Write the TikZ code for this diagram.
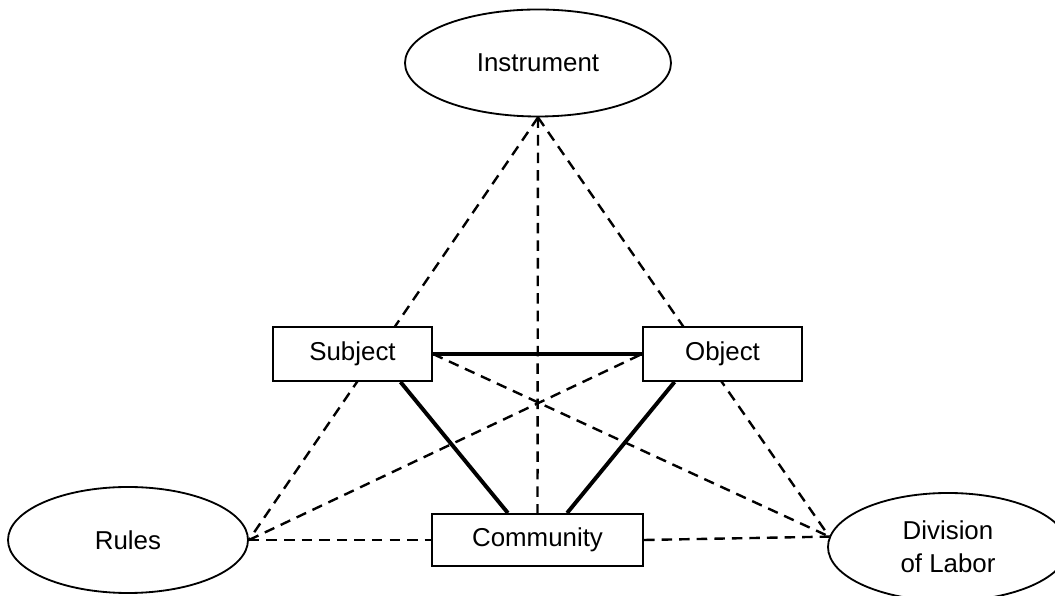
\documentclass[tikz,border=0pt]{standalone}
\usepackage{fontspec}
\setmainfont{Liberation Sans}
\usetikzlibrary{shapes,positioning,calc,backgrounds}

\begin{document}
\begin{tikzpicture}[
    oval/.style={draw, line width=1.3pt, ellipse, fill=white, inner sep=0pt,
        font=\fontsize{18.4}{23.5}\selectfont, align=center},
    box/.style={draw, line width=1.4pt, rectangle, fill=white, inner sep=0pt,
        minimum height=1.35cm, font=\fontsize{18.4}{23.5}\selectfont},
    link/.style={line width=1.7pt, dash pattern=on 7.5pt off 5pt},
    tie/.style={line width=2.8pt}
]
    \useasboundingbox (0,0) rectangle (26.375,14.9);

    % The outer ovals
    \node[oval, minimum width=6.65cm, minimum height=2.675cm] (instrument) at (13.45,13.325) {Instrument};
    \node[oval, minimum width=6cm, minimum height=2.65cm] (rules) at (3.2,1.4) {Rules};
    \node[oval, minimum width=6cm, minimum height=2.7cm] (division) at (23.7,1.225) {Division\\of Labor};

    % The inner boxes
    \node[box, minimum width=3.975cm] (subject) at (8.8125,6.05) {Subject};
    \node[box, minimum width=3.975cm] (object) at (18.0625,6.05) {Object};
    \node[box, minimum width=5.275cm, minimum height=1.3cm] (community) at (13.4375,1.4) {Community};

    \begin{scope}[on background layer]
        % Dashed ties from the instrument
        \draw[link] (instrument.south) -- (rules.east);
        \draw[link] (instrument.south) -- (community.north);
        \draw[link] (instrument.south) -- (division.175);

        % Dashed cross ties
        \draw[link] (subject.east) -- (division.175);
        \draw[link] (rules.east) -- (object.west);

        % Dashed base line
        \draw[link] (rules.east) -- (community.west);
        \draw[link] (community.east) -- (division.175);
    \end{scope}

    % Solid triangle
    \draw[tie] (subject.east) -- (object.west);
    \draw[tie] ([xshift=1.2cm]subject.south) -- ([xshift=-0.74cm]community.north);
    \draw[tie] ([xshift=-1.2cm]object.south) -- ([xshift=0.74cm]community.north);
\end{tikzpicture}
\end{document}
